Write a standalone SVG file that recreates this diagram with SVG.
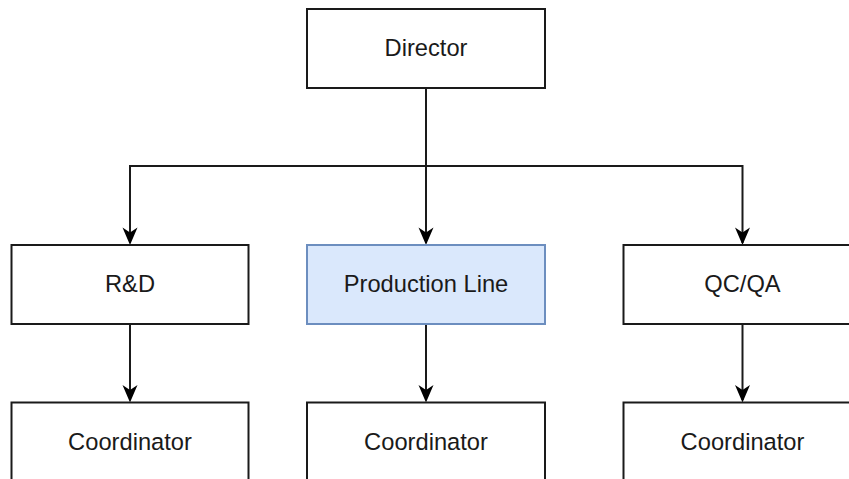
<svg xmlns="http://www.w3.org/2000/svg" width="849" height="479" viewBox="0 0 849 479">
  <style>
    .box { fill: #ffffff; stroke: #1a1a1a; stroke-width: 2; }
    .hl { fill: #dae8fc; stroke: #6c8ebf; stroke-width: 2; }
    .lbl { font-family: "Liberation Sans", Arial, sans-serif; font-size: 23.7px; fill: #1a1a1a; text-anchor: middle; }
    .edge { fill: none; stroke: #1a1a1a; stroke-width: 2; }
  </style>
  <rect width="849" height="479" fill="#ffffff"/>
  <g id="connectors">
    <path class="edge" d="M426,88 L426,243"/>
    <path class="edge" d="M426,166 L130,166 L130,243"/>
    <path class="edge" d="M426,166 L742.5,166 L742.5,243"/>
    <path class="edge" d="M130,324 L130,400"/>
    <path class="edge" d="M426,324 L426,400"/>
    <path class="edge" d="M742.5,324 L742.5,400"/>
    <g fill="#000000">
      <path d="M426,245 L418.5,227.5 L426,232.5 L433.5,227.5 Z"/>
      <path d="M130,245 L122.5,227.5 L130,232.5 L137.5,227.5 Z"/>
      <path d="M742.5,245 L735,227.5 L742.5,232.5 L750,227.5 Z"/>
      <path d="M130,402.5 L122.5,385 L130,390 L137.5,385 Z"/>
      <path d="M426,402.5 L418.5,385 L426,390 L433.5,385 Z"/>
      <path d="M742.5,402.5 L735,385 L742.5,390 L750,385 Z"/>
    </g>
  </g>
  <g id="director">
    <rect class="box" x="307" y="9" width="238" height="79"/>
    <text class="lbl" x="426" y="55.5">Director</text>
  </g>
  <g id="rnd">
    <rect class="box" x="11.5" y="245" width="237" height="79"/>
    <text class="lbl" x="130" y="292">R&amp;D</text>
  </g>
  <g id="production">
    <rect class="hl" x="307" y="245" width="238" height="79"/>
    <text class="lbl" x="426" y="292">Production Line</text>
  </g>
  <g id="qcqa">
    <rect class="box" x="623.5" y="245" width="238" height="79"/>
    <text class="lbl" x="742.5" y="292">QC/QA</text>
  </g>
  <g id="coord1">
    <rect class="box" x="11.5" y="402.5" width="237" height="79"/>
    <text class="lbl" x="130" y="449.5">Coordinator</text>
  </g>
  <g id="coord2">
    <rect class="box" x="307" y="402.5" width="238" height="79"/>
    <text class="lbl" x="426" y="449.5">Coordinator</text>
  </g>
  <g id="coord3">
    <rect class="box" x="623.5" y="402.5" width="238" height="79"/>
    <text class="lbl" x="742.5" y="449.5">Coordinator</text>
  </g>
</svg>
